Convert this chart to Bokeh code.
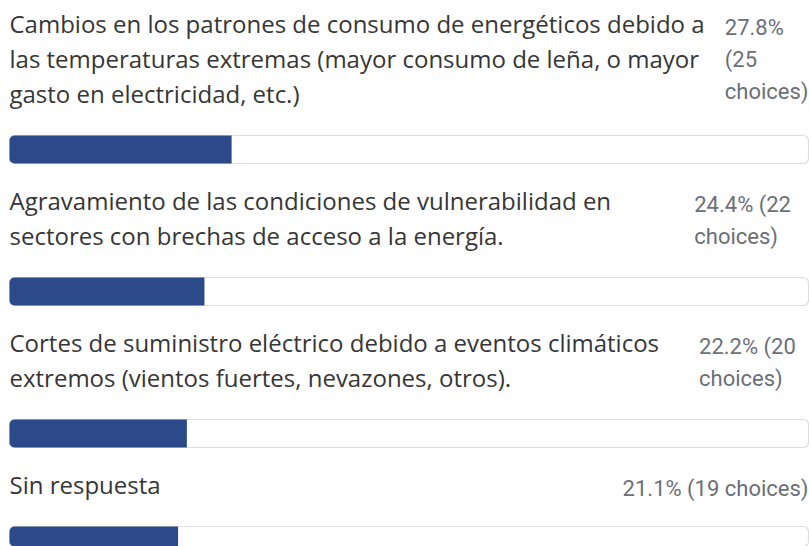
import textwrap
from bokeh.plotting import figure
from bokeh.models import Range1d, ColumnDataSource
from bokeh.core.properties import value
from bokeh.embed import file_html
from bokeh.resources import INLINE

# ---- data ----
labels = [
    "Cambios en los patrones de consumo de energéticos debido a las temperaturas extremas (mayor consumo de leña, o mayor gasto en electricidad, etc.)",
    "Agravamiento de las condiciones de vulnerabilidad en sectores con brechas de acceso a la energía.",
    "Cortes de suministro eléctrico debido a eventos climáticos extremos (vientos fuertes, nevazones, otros).",
    "Sin respuesta",
]
pcts = [27.8, 24.4, 22.2, 21.1]
counts = [25, 22, 20, 19]

# ---- layout ----
W, H = 809, 546
PX_PER_PCT = 7.99
X0 = -9 / PX_PER_PCT
LABEL_WRAP = 58
PCT_WRAP = [8, 9, 9, 40]
PCT_X = [100, 85.7, 86.3, 100]          # column position (in % units)
PCT_ANCHOR = ["top_right", "top_left", "top_left", "top_right"]
FIRST_BASELINE = 33
LABEL_PITCH = 35
LABEL_ASC = 27
PCT_ASC = 19
GAP_TO_BAR = 32
BAR_H = 28
GAP_AFTER_BAR = 47
LABEL_FONT = "Open Sans"
LABEL_SIZE = 24
PCT_FONT = "Roboto"
PCT_SIZE = 22

p = figure(width=W, height=H, output_backend="svg", toolbar_location=None,
           x_range=Range1d(X0, X0 + W / PX_PER_PCT), y_range=Range1d(H, 0),
           x_axis_location=None, y_axis_location=None, min_border=0,
           outline_line_color=None, background_fill_color="white",
           border_fill_color="white")
p.grid.visible = False

lx, ly, lt = [], [], []
py, pt = [], []
by = []
y = FIRST_BASELINE
for i, lab in enumerate(labels):
    lines = textwrap.wrap(lab, LABEL_WRAP)
    for j, line in enumerate(lines):
        lx.append(0)
        ly.append(y + j * LABEL_PITCH - LABEL_ASC)
        lt.append(line)
    pct_lines = textwrap.wrap(f"{pcts[i]}% ({counts[i]} choices)", PCT_WRAP[i])
    py.append(y - PCT_ASC)
    pt.append("\n".join(pct_lines))
    last = y + (len(lines) - 1) * LABEL_PITCH
    bar_top = last + GAP_TO_BAR
    by.append(bar_top + BAR_H / 2)
    y = bar_top + BAR_H + GAP_AFTER_BAR

bars = ColumnDataSource(dict(y=by, pct=pcts, full=[100] * len(pcts)))
p.hbar(y="y", left=0, right="full", height=BAR_H, source=bars,
       fill_color="white", line_color="#dedede", line_width=1.2, border_radius=5)
p.hbar(y="y", left=0, right="pct", height=BAR_H, source=bars,
       fill_color="#2c4a8a", line_color=None, border_radius=(5, 0, 0, 5))

p.text(x="x", y="y", text="t", source=ColumnDataSource(dict(x=lx, y=ly, t=lt)),
       anchor=value("top_left"), text_align="left", text_line_height=1.0,
       text_font=value(LABEL_FONT), text_font_size=f"{LABEL_SIZE}px",
       text_color="#363636")

p.text(x="x", y="y", text="t", anchor="a",
       source=ColumnDataSource(dict(x=PCT_X, y=py, t=pt, a=PCT_ANCHOR)),
       text_align="left", text_line_height=1.28,
       text_font=value(PCT_FONT), text_font_size=f"{PCT_SIZE}px",
       text_color="#6b6f77")

open("out.html", "w").write(file_html(p, INLINE))
